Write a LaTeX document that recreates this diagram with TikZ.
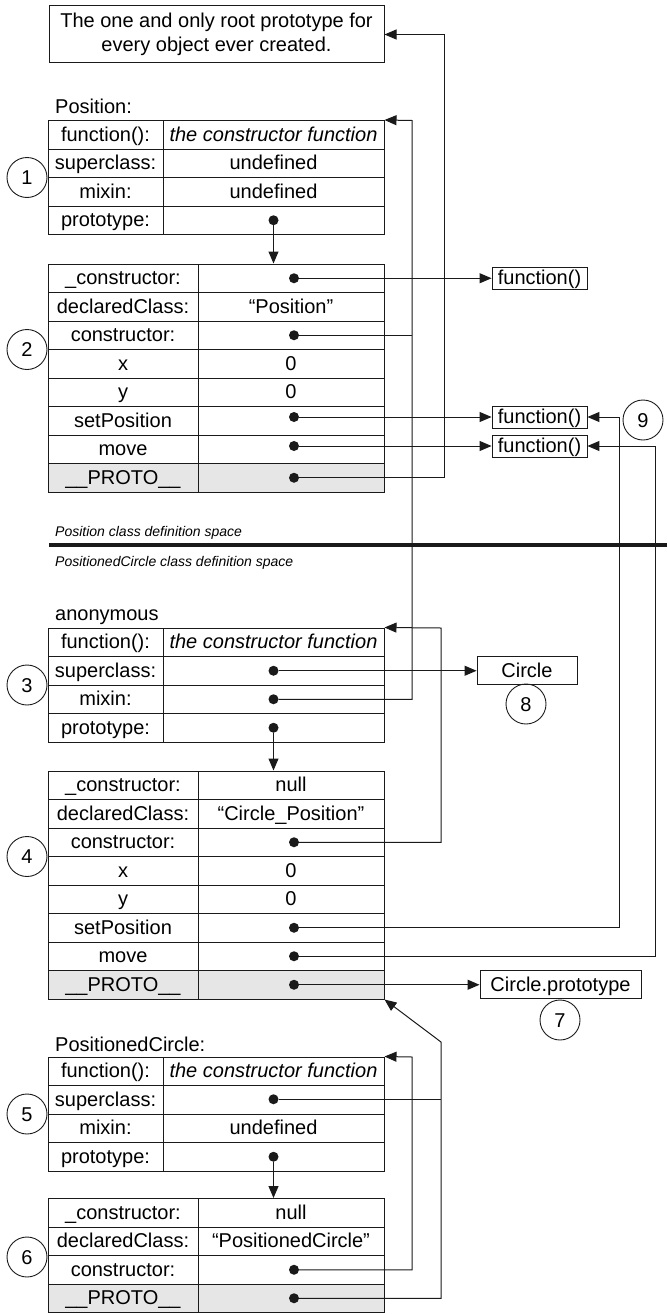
\documentclass[tikz,border=0pt]{standalone}
\usepackage{fontspec}
\setmainfont{Liberation Sans}
\usetikzlibrary{arrows.meta,calc}
\newcommand\fs{\fontsize{20}{24}\selectfont}
\newcommand\fsm{\fontsize{14}{16}\selectfont\itshape}
% #1 name, #2 top y, #3 split x, #4 left text, #5 right text, #6 fill
\newcommand\crow[6]{%
  \node[cell, fill=#6, minimum width={(#3-48)*1pt}] (#1a) at ({(48+#3)/2},{#2+14.25}) {#4};
  \node[cell, fill=#6, minimum width={(384-#3)*1pt}] (#1b) at ({(384+#3)/2},{#2+14.25}) {#5};}
\definecolor{protogrey}{HTML}{E6E6E6}
\definecolor{ln}{HTML}{1A1A1A}
\begin{document}
\begin{tikzpicture}[x=1pt,y=-1pt,
  cell/.style={draw=ln, line width=1pt, minimum height=28.5pt, inner sep=0pt, font=\fs, text height=14pt, text depth=1pt},
  dotn/.style={circle, fill=ln, inner sep=0pt, minimum size=10pt},
  conn/.style={draw=ln, line width=1pt},
  arr/.style={conn, -{Triangle[length=12pt,width=10pt]}},
  num/.style={circle, draw=ln, line width=0.9pt, minimum size=40pt, inner sep=0pt, font=\fs, text height=14pt, text depth=0pt},
  fbox/.style={draw=ln, line width=0.9pt, inner sep=0pt, minimum height=22pt, font=\fs, text height=14pt, text depth=1pt},
  title/.style={anchor=base west, inner sep=0pt, font=\fs},
  small/.style={anchor=base west, inner sep=0pt, font=\fsm}]
\useasboundingbox (0,0) rectangle (667,1314);

% root box
\node[draw=ln, line width=1pt, minimum width=335pt, minimum height=57pt, inner sep=0pt,
  align=center, font=\fs] (root) at (216.5,34.5) {The one and only root prototype for\\every object ever created.};

% Table 1 (Position)
\node[title] (lab1) at (55,113) {Position:};
\crow{t1r1}{120.5}{163}{function():}{\itshape the constructor function}{white}
\crow{t1r2}{149}{163}{superclass:}{undefined}{white}
\crow{t1r3}{177.5}{163}{mixin:}{undefined}{white}
\crow{t1r4}{206}{163}{prototype:}{}{white}
\node[num] (n1) at (27,177.5) {1};

% Table 2 (Position.prototype)
\crow{t2r1}{264}{198}{\_constructor:}{}{white}
\crow{t2r2}{292.5}{198}{declaredClass:}{“Position”}{white}
\crow{t2r3}{321}{198}{constructor:}{}{white}
\crow{t2r4}{349.5}{198}{x}{0}{white}
\crow{t2r5}{378}{198}{y}{0}{white}
\crow{t2r6}{406.5}{198}{setPosition}{}{white}
\crow{t2r7}{435}{198}{move}{}{white}
\crow{t2r8}{463.5}{198}{\_\_PROTO\_\_}{}{protogrey}
\node[num] (n2) at (27,349.5) {2};

% function boxes
\node[fbox, minimum width=95pt] (fb1) at (539.5,278.25) {function()};
\node[fbox, minimum width=95pt] (fb2) at (539.5,417) {function()};
\node[fbox, minimum width=95pt] (fb3) at (539.5,446) {function()};
\node[num] (n9) at (643,420) {9};

% divider
\node[small] (sp1) at (55,536) {Position class definition space};
\coordinate (divl) at (49,545);
\coordinate (divr) at (667,545);
\draw[ln, line width=3.6pt] (divl) -- (divr);
\node[small] (sp2) at (55,566) {PositionedCircle class definition space};

% Table 3 (anonymous)
\node[title] (lab3) at (55,620) {anonymous};
\crow{t3r1}{628}{163}{function():}{\itshape the constructor function}{white}
\crow{t3r2}{656.5}{163}{superclass:}{}{white}
\crow{t3r3}{685}{163}{mixin:}{}{white}
\crow{t3r4}{713.5}{163}{prototype:}{}{white}
\node[num] (n3) at (27,685) {3};

\node[fbox, minimum width=100pt, minimum height=28pt] (circ) at (527,670.75) {Circle};
\node[num] (n8) at (526,704) {8};

% Table 4
\crow{t4r1}{771}{198}{\_constructor:}{null}{white}
\crow{t4r2}{799.5}{198}{declaredClass:}{“Circle\_Position”}{white}
\crow{t4r3}{828}{198}{constructor:}{}{white}
\crow{t4r4}{856.5}{198}{x}{0}{white}
\crow{t4r5}{885}{198}{y}{0}{white}
\crow{t4r6}{913.5}{198}{setPosition}{}{white}
\crow{t4r7}{942}{198}{move}{}{white}
\crow{t4r8}{970.5}{198}{\_\_PROTO\_\_}{}{protogrey}
\node[num] (n4) at (27,856.5) {4};

\node[fbox, minimum width=161pt, minimum height=28pt] (cproto) at (560.5,984.75) {Circle.prototype};
\node[num] (n7) at (560,1020) {7};

% Table 5 (PositionedCircle)
\node[title] (lab5) at (55,1051) {PositionedCircle:};
\crow{t5r1}{1057}{163}{function():}{\itshape the constructor function}{white}
\crow{t5r2}{1085.5}{163}{superclass:}{}{white}
\crow{t5r3}{1114}{163}{mixin:}{undefined}{white}
\crow{t5r4}{1142.5}{163}{prototype:}{}{white}
\node[num] (n5) at (27,1114) {5};

% Table 6
\crow{t6r1}{1198.5}{198}{\_constructor:}{null}{white}
\crow{t6r2}{1227}{198}{declaredClass:}{“PositionedCircle”}{white}
\crow{t6r3}{1255.5}{198}{constructor:}{}{white}
\crow{t6r4}{1284}{198}{\_\_PROTO\_\_}{}{protogrey}
\node[num] (n6) at (27,1257) {6};

% dots
\node[dotn] (d1p) at (273.5,220.25) {};
\node[dotn] (d2k) at (294,278.25) {};
\node[dotn] (d2c) at (294,335.25) {};
\node[dotn] (d2s) at (294,417) {};
\node[dotn] (d2m) at (294,446) {};
\node[dotn] (d2p) at (294,477.75) {};
\node[dotn] (d3s) at (273.5,670.75) {};
\node[dotn] (d3m) at (273.5,699.25) {};
\node[dotn] (d3p) at (273.5,727.75) {};
\node[dotn] (d4c) at (294,842.25) {};
\node[dotn] (d4s) at (294,927.75) {};
\node[dotn] (d4m) at (294,956.25) {};
\node[dotn] (d4p) at (294,984.75) {};
\node[dotn] (d5s) at (273.5,1099.25) {};
\node[dotn] (d5p) at (273.5,1156.75) {};
\node[dotn] (d6c) at (294,1269.75) {};
\node[dotn] (d6p) at (294,1298.25) {};

% bend coordinates
\coordinate (c444) at (444,34.5);
\coordinate (c412) at (412,120.5);
\coordinate (c441a) at (441,628);
\coordinate (c619) at (619,417);
\coordinate (c655) at (655,446);
\coordinate (c441b) at (441,1042);
\coordinate (c412b) at (412,1057);

% connectors
\draw[arr] (d1p) -- (d1p |- t2r1b.north);
\draw[arr] (d2k) -- (fb1.west);
\draw[conn] (d2c) -- (d2c -| c412);
\draw[arr] (d2s) -- (fb2.west);
\draw[arr] (d2m) -- (fb3.west);
\draw[arr] (d2p) -| (c444) -- (root.east);
\draw[arr] (d3m) -| (c412) -- (t1r1b.north east);
\draw[arr] (d3s) -- (circ.west);
\draw[arr] (d3p) -- (d3p |- t4r1b.north);
\draw[arr] (d4c) -| (c441a) -- (t3r1b.north east);
\draw[arr] (d4s) -| (c619) -- (fb2.east);
\draw[arr] (d4m) -| (c655) -- (fb3.east);
\draw[arr] (d4p) -- (cproto.west);
\draw[conn] (d5s) -- (d5s -| c441b);
\draw[arr] (d6p) -| (c441b) -- (t4r8b.south east);
\draw[arr] (d5p) -- (d5p |- t6r1b.north);
\draw[arr] (d6c) -| (c412b) -- (t5r1b.north east);
\end{tikzpicture}
\end{document}
